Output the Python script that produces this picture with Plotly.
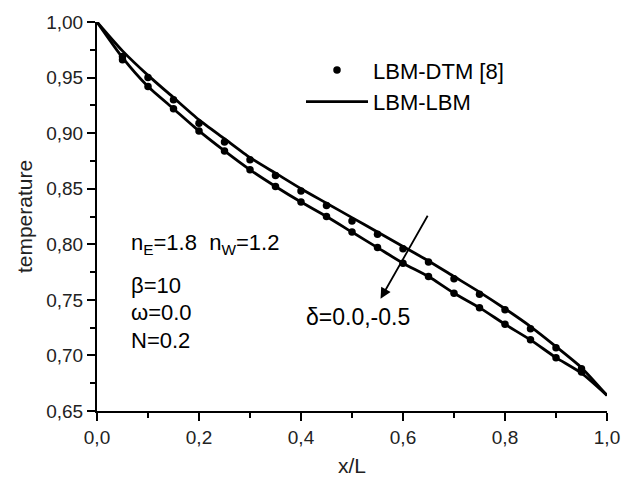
import plotly.graph_objects as go

# ---- data ----
x_line = [0.0, 0.05, 0.10, 0.15, 0.20, 0.25, 0.30, 0.35, 0.40, 0.45, 0.50,
          0.55, 0.60, 0.65, 0.70, 0.75, 0.80, 0.85, 0.90, 0.95, 1.00]
lbm_upper = [1.000, 0.974, 0.952, 0.932, 0.912, 0.895, 0.878, 0.864, 0.850, 0.837, 0.824,
             0.811, 0.798, 0.785, 0.771, 0.757, 0.742, 0.726, 0.708, 0.689, 0.664]
lbm_lower = [1.000, 0.968, 0.942, 0.922, 0.902, 0.884, 0.867, 0.852, 0.838, 0.825, 0.811,
             0.797, 0.783, 0.771, 0.756, 0.743, 0.728, 0.714, 0.698, 0.684, 0.664]

x_dots = [0.05, 0.10, 0.15, 0.20, 0.25, 0.30, 0.35, 0.40, 0.45, 0.50,
          0.55, 0.60, 0.65, 0.70, 0.75, 0.80, 0.85, 0.90, 0.95]
dtm_upper = [0.969, 0.950, 0.930, 0.909, 0.892, 0.876, 0.862, 0.848, 0.835, 0.821,
             0.809, 0.796, 0.784, 0.769, 0.755, 0.741, 0.724, 0.707, 0.688]
dtm_lower = [0.966, 0.942, 0.922, 0.902, 0.884, 0.867, 0.852, 0.838, 0.825, 0.811,
             0.797, 0.783, 0.771, 0.756, 0.743, 0.728, 0.714, 0.698, 0.685]

x_ticks = [0.0, 0.2, 0.4, 0.6, 0.8, 1.0]
y_ticks = [0.65, 0.70, 0.75, 0.80, 0.85, 0.90, 0.95, 1.00]

FONT = "Arial, Liberation Sans, sans-serif"

fig = go.Figure()

for i, yv in enumerate([dtm_upper, dtm_lower]):
    fig.add_trace(go.Scatter(
        x=x_dots, y=yv, mode="markers", name="LBM-DTM [8]",
        legendgroup="dtm", showlegend=(i == 0),
        marker=dict(color="black", size=7.5, symbol="circle")))

for i, yv in enumerate([lbm_upper, lbm_lower]):
    fig.add_trace(go.Scatter(
        x=x_line, y=yv, mode="lines", name="LBM-LBM",
        legendgroup="lbm", showlegend=(i == 0),
        line=dict(color="black", width=2.8, shape="spline", smoothing=0.6)))

axis_common = dict(
    showgrid=False, zeroline=False, showline=True, linecolor="black", linewidth=2,
    ticks="outside", ticklen=8, tickwidth=1.5, tickcolor="black",
    tickfont=dict(family=FONT, size=19, color="#222"),
    mirror=False,
)

fig.update_layout(
    width=633, height=486,
    margin=dict(l=97, r=26, t=22, b=73),
    paper_bgcolor="white", plot_bgcolor="white",
    separators=",.",
    font=dict(family=FONT, color="black"),
    xaxis=dict(range=[0, 1.0], tickvals=x_ticks, tickformat=".1f",
               minor=dict(ticks="outside", ticklen=5, tickwidth=1.5, tickcolor="black", dtick=0.1),
               title=dict(text="x/L", font=dict(family=FONT, size=21, color="#222"), standoff=12),
               **axis_common),
    yaxis=dict(range=[0.65, 1.0], tickvals=y_ticks, tickformat=".2f",
               minor=dict(ticks="outside", ticklen=5, tickwidth=1.5, tickcolor="black", dtick=0.025),
               title=dict(text="temperature", font=dict(family=FONT, size=21, color="#222"), standoff=8),
               **axis_common),
    legend=dict(x=0.40, y=0.93, xanchor="left", yanchor="top",
                bgcolor="rgba(0,0,0,0)", font=dict(family=FONT, size=22, color="black"),
                itemwidth=62, tracegroupgap=0),
)

ann_font = dict(family=FONT, size=22, color="black")
fig.add_annotation(x=0.063, y=0.8004, xref="x", yref="y", xanchor="left", yanchor="middle",
                   text="n<sub>E</sub>=1.8  n<sub>W</sub>=1.2", showarrow=False, font=ann_font)
fig.add_annotation(x=0.063, y=0.7628, xref="x", yref="y", xanchor="left", yanchor="middle",
                   text="β=10", showarrow=False, font=ann_font)
fig.add_annotation(x=0.063, y=0.7386, xref="x", yref="y", xanchor="left", yanchor="middle",
                   text="ω=0.0", showarrow=False, font=ann_font)
fig.add_annotation(x=0.063, y=0.7135, xref="x", yref="y", xanchor="left", yanchor="middle",
                   text="N=0.2", showarrow=False, font=ann_font)
fig.add_annotation(x=0.405, y=0.735, xref="x", yref="y", xanchor="left", yanchor="middle",
                   text="δ=0.0,-0.5", showarrow=False, font=dict(family=FONT, size=23, color="black"))
# arrow crossing the curves
fig.add_annotation(x=0.556, y=0.751, ax=0.650, ay=0.827, xref="x", yref="y",
                   axref="x", ayref="y", text="", showarrow=True,
                   arrowhead=2, arrowsize=1.2, arrowwidth=1.8, arrowcolor="black")

fig.write_html("out.html")
